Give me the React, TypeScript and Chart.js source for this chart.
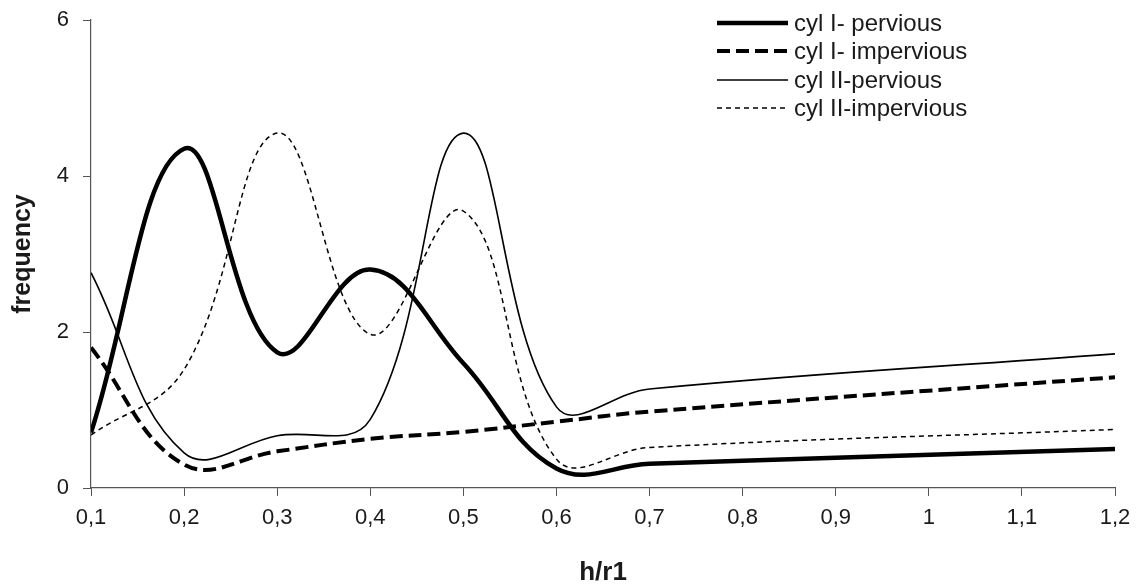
import React, { useEffect, useRef } from "react";
import { Chart, registerables } from "chart.js";

Chart.register(...registerables);

const xValues = [0.1, 0.2, 0.3, 0.4, 0.5, 0.6, 0.7, 1.2];
const cylIPervious = [0.71, 4.35, 1.74, 2.8, 1.6, 0.25, 0.31, 0.5];
const cylIImpervious = [1.8, 0.3, 0.47, 0.63, 0.72, 0.85, 0.98, 1.42];
const cylIIPervious = [2.76, 0.45, 0.67, 0.88, 4.55, 1.04, 1.27, 1.72];
const cylIIImpervious = [0.68, 1.52, 4.55, 1.97, 3.55, 0.37, 0.52, 0.75];
const seriesLabels = ["cyl I- pervious", "cyl I- impervious", "cyl II-pervious", "cyl II-impervious"];
const xTicks = [0.1, 0.2, 0.3, 0.4, 0.5, 0.6, 0.7, 0.8, 0.9, 1, 1.1, 1.2];
const yTicks = [0, 2, 4, 6];

const FONT = "'Liberation Sans', Arial, sans-serif";

const toPts = (ys: number[]) => ys.map((y, i) => ({ x: xValues[i], y }));

const legendPlugin = {
  id: "customLegend",
  afterDraw(chart: any) {
    const ctx = chart.ctx;
    const x0 = 717;
    const x1 = 788;
    const rows = [23, 51, 80, 108];
    ctx.save();
    chart.data.datasets.forEach((ds: any, i: number) => {
      const y = rows[i];
      ctx.beginPath();
      ctx.setLineDash(ds.borderDash || []);
      ctx.lineWidth = ds.borderWidth;
      ctx.strokeStyle = ds.borderColor;
      ctx.lineCap = "butt";
      ctx.moveTo(x0, y);
      ctx.lineTo(x1, y);
      ctx.stroke();
      ctx.setLineDash([]);
      ctx.fillStyle = "#1a1a1a";
      ctx.font = `24px ${FONT}`;
      ctx.textBaseline = "middle";
      ctx.textAlign = "left";
      ctx.fillText(ds.label, 794, y + 1);
    });
    ctx.restore();
  },
};

export default function App() {
  const ref = useRef<HTMLCanvasElement | null>(null);
  useEffect(() => {
    document.body.style.margin = "0";
    const canvas = ref.current!;
    const chart = new Chart(canvas, {
      type: "line",
      data: {
        datasets: [
          {
            label: seriesLabels[0],
            data: toPts(cylIPervious),
            borderColor: "#000",
            borderWidth: 4.5,
            pointRadius: 0,
            tension: 0.4,
          },
          {
            label: seriesLabels[1],
            data: toPts(cylIImpervious),
            borderColor: "#000",
            borderWidth: 4,
            borderDash: [13, 6],
            pointRadius: 0,
            tension: 0.4,
          },
          {
            label: seriesLabels[2],
            data: toPts(cylIIPervious),
            borderColor: "#000",
            borderWidth: 1.6,
            pointRadius: 0,
            tension: 0.4,
          },
          {
            label: seriesLabels[3],
            data: toPts(cylIIImpervious),
            borderColor: "#000",
            borderWidth: 1.5,
            borderDash: [5, 4],
            pointRadius: 0,
            tension: 0.4,
          },
        ],
      },
      options: {
        responsive: false,
        animation: false,
        layout: { padding: { top: 20, right: 24, left: 0, bottom: 0 } },
        plugins: {
          legend: { display: false },
          tooltip: { enabled: false },
        },
        scales: {
          x: {
            type: "linear",
            min: 0.1,
            max: 1.2,
            afterBuildTicks: (scale: any) => {
              scale.ticks = xTicks.map((v) => ({ value: v }));
            },
            afterFit: (scale: any) => {
              scale.height = 99;
              scale.paddingLeft = 0;
              scale.paddingRight = 0;
            },
            ticks: {
              font: { family: FONT, size: 22 },
              color: "#1a1a1a",
              padding: 9,
              maxRotation: 0,
              autoSkip: false,
              callback: (v: any) => String(Math.round(Number(v) * 10) / 10).replace(".", ","),
            },
            grid: { drawOnChartArea: false, drawTicks: true, tickLength: 8, color: "#555" },
            border: { display: true, color: "#555", width: 1.2 },
            title: {
              display: true,
              text: "h/r1",
              font: { family: FONT, size: 26, weight: "bold", lineHeight: 1 },
              color: "#1a1a1a",
              padding: { top: 0, bottom: 1 },
            },
          },
          y: {
            type: "linear",
            min: 0,
            max: 6,
            afterBuildTicks: (scale: any) => {
              scale.ticks = yTicks.map((v) => ({ value: v }));
            },
            afterFit: (scale: any) => {
              scale.width = 91;
              scale.paddingTop = 0;
              scale.paddingBottom = 0;
            },
            ticks: {
              font: { family: FONT, size: 22 },
              color: "#1a1a1a",
              padding: 14,
              callback: (v: any) => String(v),
            },
            grid: { drawOnChartArea: false, drawTicks: true, tickLength: 8, color: "#555" },
            border: { display: true, color: "#555", width: 1.2 },
            title: {
              display: true,
              text: "frequency",
              font: { family: FONT, size: 25, weight: "bold", lineHeight: 1.2 },
              color: "#1a1a1a",
              padding: { top: 8, bottom: 0 },
            },
          },
        },
      },
      plugins: [legendPlugin],
    } as any);
    return () => chart.destroy();
  }, []);
  return <canvas ref={ref} width={1139} height={587} style={{ display: "block" }} />;
}
